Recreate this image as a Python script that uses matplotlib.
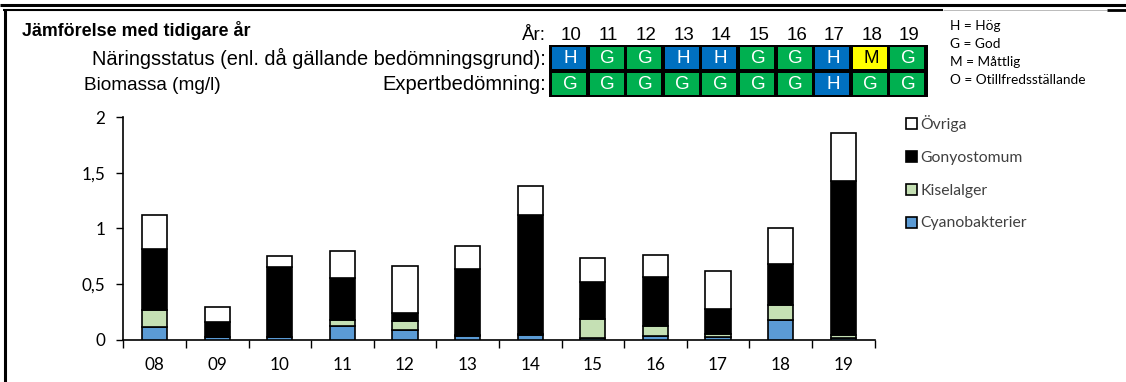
import matplotlib
matplotlib.use("Agg")
import matplotlib.pyplot as plt
from matplotlib.patches import Rectangle
import numpy as np

# --- data -------------------------------------------------------------
years = ["08", "09", "10", "11", "12", "13", "14", "15", "16", "17", "18", "19"]
cyano = [0.11, 0.02, 0.02, 0.123, 0.085, 0.03, 0.045, 0.01, 0.033, 0.02, 0.177, 0.01]
kisel = [0.155, 0.005, 0.005, 0.057, 0.085, 0.015, 0.003, 0.175, 0.093, 0.028, 0.132, 0.035]
gonyo = [0.55, 0.135, 0.63, 0.375, 0.065, 0.59, 1.07, 0.335, 0.435, 0.23, 0.37, 1.385]
ovriga = [0.31, 0.13, 0.1, 0.245, 0.425, 0.21, 0.265, 0.21, 0.2, 0.337, 0.327, 0.427]

series_names = ["Cyanobakterier", "Kiselalger", "Gonyostomum", "Övriga"]
series_colors = ["#5B9BD5", "#C5E0B4", "#000000", "#FFFFFF"]

status_years = ["10", "11", "12", "13", "14", "15", "16", "17", "18", "19"]
naring_status = ["H", "G", "G", "H", "H", "G", "G", "H", "M", "G"]
expert_status = ["G", "G", "G", "G", "G", "G", "G", "H", "G", "G"]
status_colors = {"H": "#0070C0", "G": "#00B050", "M": "#FFFF00", "O": "#FF0000"}
status_text_colors = {"H": "white", "G": "white", "M": "black", "O": "white"}
status_key = ["H = Hög", "G = God", "M = Måttlig", "O = Otillfredsställande"]

W, H = 1126, 382
fig = plt.figure(figsize=(W / 100, H / 100), dpi=100)

# overlay in pixel coordinates for frame, header and status table
ov = fig.add_axes([0, 0, 1, 1])
ov.set_xlim(0, W)
ov.set_ylim(H, 0)
ov.axis("off")

# frame lines
ov.plot([0, W], [4.5, 4.5], color="black", lw=2.2, solid_capstyle="butt")
ov.plot([3, 943], [9.5, 9.5], color="black", lw=1.5, solid_capstyle="butt")
ov.plot([943, 1107], [9.5, 9.5], color="#b0b0b0", lw=0.6, solid_capstyle="butt")
ov.plot([1107, W], [9.8, 9.8], color="black", lw=2.0, solid_capstyle="butt")
ov.plot([4.5, 4.5], [8.5, H], color="black", lw=2.2, solid_capstyle="butt")

arial = "Liberation Sans"
calib = "Lato"

ov.text(22, 30, "Jämförelse med tidigare år", fontfamily=arial, fontweight="bold",
        fontsize=12.9, ha="left", va="center")
ov.text(546, 35, "År:", fontfamily=arial, fontsize=13.5, ha="right", va="center")
ov.text(546, 58, "Näringsstatus (enl. då gällande bedömningsgrund):", fontfamily=arial,
        fontsize=14.4, ha="right", va="center")
ov.text(546, 84, "Expertbedömning:", fontfamily=arial, fontsize=14.5, ha="right", va="center")
ov.text(84, 86, "Biomassa (mg/l)", fontfamily=arial, fontsize=13.7, ha="left", va="center")

# status table
x0, pitch, cw = 552, 37.6, 34
row_top = [47.3, 72.7]
row_h = 22
ncell = len(status_years)
ov.add_patch(Rectangle((x0 - 3, 45.3), ncell * pitch + 2.5, 51.5, facecolor="black",
                       edgecolor="none"))
for i, yr in enumerate(status_years):
    cx = x0 + i * pitch
    ov.text(cx + cw / 2 + 2, 35, yr, fontfamily=arial, fontsize=13.5, ha="center", va="center")
    for r, row in enumerate([naring_status, expert_status]):
        s = row[i]
        ov.add_patch(Rectangle((cx, row_top[r]), cw, row_h, facecolor=status_colors[s],
                               edgecolor="none"))
        ov.text(cx + cw / 2 + 1, row_top[r] + row_h / 2 + 0.5, s, fontfamily=arial,
                fontsize=13.5, color=status_text_colors[s], ha="center", va="center")

# status key
ov.add_patch(Rectangle((943, 9.5), 164, 90, facecolor="white", edgecolor="none"))
for k, txt in enumerate(status_key):
    ov.text(950, 26 + k * 18, txt, fontfamily=calib, fontsize=9.8, ha="left", va="center")

# --- stacked bar chart ---------------------------------------------------
ax = fig.add_axes([123.3 / W, 1 - 339.5 / H, (874.5 - 123.3) / W, (339.5 - 117.3) / H])
x = np.arange(len(years))
bottom = np.zeros(len(years))
handles = []
for vals, name, col in zip([cyano, kisel, gonyo, ovriga], series_names, series_colors):
    b = ax.bar(x, vals, width=0.4, bottom=bottom, color=col, edgecolor="black",
               linewidth=1.2, label=name, zorder=3)
    handles.append(b)
    bottom += np.array(vals)

ax.set_xlim(-0.5, len(years) - 0.5)
ax.set_ylim(0, 2)
ax.set_yticks([0, 0.5, 1, 1.5, 2])
ax.set_yticklabels(["0", "0,5", "1", "1,5", "2"])
ax.set_xticks(np.arange(-0.5, len(years)), labels=[""] * (len(years) + 1))
ax.set_xticks(x, labels=years, minor=True)
ax.tick_params(axis="y", direction="out", length=5, width=1, pad=8, labelsize=12.3,
               labelfontfamily=calib)
ax.tick_params(axis="x", which="major", direction="out", length=6, width=1)
ax.tick_params(axis="x", which="minor", length=0, pad=12.5, labelsize=12.3,
               labelfontfamily=calib)
for sp in ["top", "right"]:
    ax.spines[sp].set_visible(False)
for sp in ["left", "bottom"]:
    ax.spines[sp].set_linewidth(1.2)
ax.patch.set_alpha(0)

leg = ax.legend(handles[::-1], series_names[::-1], loc="upper left",
                bbox_to_anchor=(906 / W, 1 - 115 / H), bbox_transform=fig.transFigure,
                frameon=False, handlelength=0.7, handleheight=0.7, handletextpad=0.2,
                labelspacing=1.2, borderpad=0, borderaxespad=0,
                prop={"family": calib, "size": 11.3})
for t in leg.get_texts():
    t.set_color("#404040")

fig.savefig("out.png", dpi=100)
